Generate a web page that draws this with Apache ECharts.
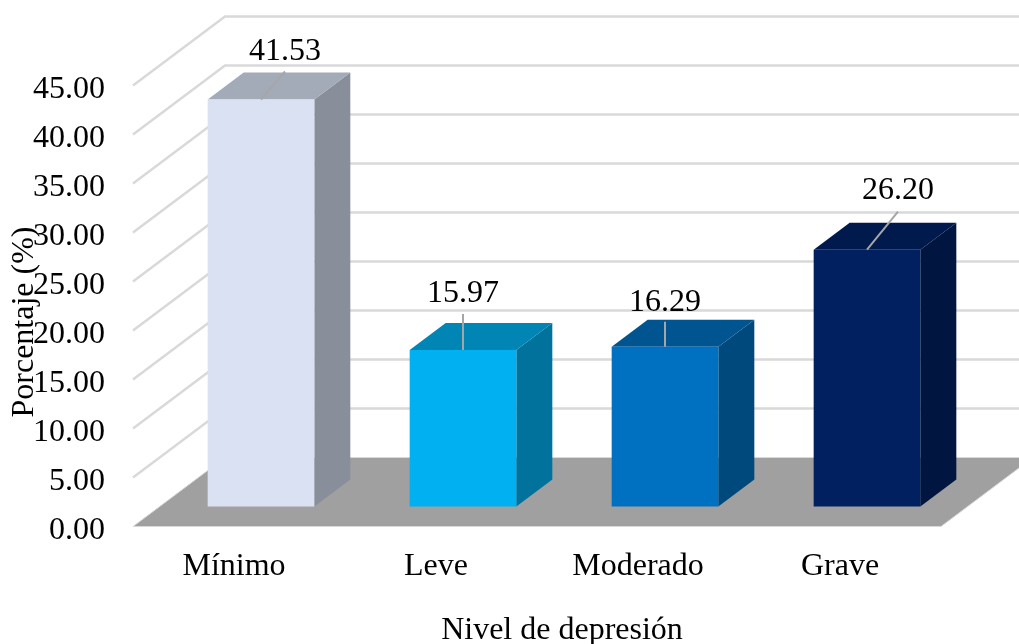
<!DOCTYPE html>
<html>
<head>
<meta charset="utf-8">
<style>html,body{margin:0;padding:0;background:#fff}#chart{width:1019px;height:644px}</style>
<script src="https://cdn.jsdelivr.net/npm/echarts@6/dist/echarts.min.js"></script>
</head>
<body>
<div id="chart"></div>
<script>
// Depression level distribution, drawn as a pseudo-3D column chart.
const categories = ['Mínimo', 'Leve', 'Moderado', 'Grave'];
const percentages = [41.53, 15.97, 16.29, 26.20];
const yTicks = [0, 5, 10, 15, 20, 25, 30, 35, 40, 45];

const frontColors = ['#dae1f3', '#00b0f0', '#0070c0', '#002060'];
const topColors = ['#a3abb8', '#0085b5', '#005591', '#001a4d'];
const sideColors = ['#888f9b', '#00729c', '#00497d', '#00153f'];

// Perspective of the box: how far the back wall sits from the front plane.
const WALL_DX = 92, WALL_DY = -69;
// Columns stand part-way into the floor and have their own depth.
const BAR_DX = 27, BAR_DY = -20, BAR_DEPTH_X = 36, BAR_DEPTH_Y = -27, BAR_RATIO = 0.528;
// Data label centre and leader end, relative to the middle of each column's top edge.
const labelShift = [[24, -48], [0, -56], [0, -44], [31, -59]];
const leaderEnd = [[24, -28], [0, -36], [0, -25], [31, -38]];

const serif = '"Liberation Serif", "Times New Roman", serif';
const FONT = 32;

function renderWall(params, api) {
  const rect = params.coordSys;
  const tick = api.value(1);
  const y = api.coord([0, tick])[1];
  const xL = rect.x, xR = rect.x + rect.width;
  if (tick === 0) {
    return {
      type: 'polygon',
      shape: { points: [[xL, y], [xR, y], [xR + WALL_DX, y + WALL_DY], [xL + WALL_DX, y + WALL_DY]] },
      style: { fill: '#a0a0a0', stroke: '#d9d9d9', lineWidth: 1 }
    };
  }
  return {
    type: 'polyline',
    shape: { points: [[xL, y], [xL + WALL_DX, y + WALL_DY], [xR + WALL_DX, y + WALL_DY]] },
    style: { fill: null, stroke: '#d9d9d9', lineWidth: 2.5 }
  };
}

function renderBar(params, api) {
  const i = api.value(0);
  const w = api.size([1, 0])[0] * BAR_RATIO;
  const topPt = api.coord([i, api.value(1)]);
  const basePt = api.coord([i, 0]);
  const cx = topPt[0] + BAR_DX;
  const l = cx - w / 2, r = cx + w / 2;
  const t = topPt[1] + BAR_DY, b = basePt[1] + BAR_DY;
  const dx = BAR_DEPTH_X, dy = BAR_DEPTH_Y;
  return {
    type: 'group',
    children: [
      { type: 'polygon', shape: { points: [[r, t], [r, b], [r + dx, b + dy], [r + dx, t + dy]] }, style: { fill: sideColors[i] } },
      { type: 'polygon', shape: { points: [[l, t], [r, t], [r + dx, t + dy], [l + dx, t + dy]] }, style: { fill: topColors[i] } },
      { type: 'rect', shape: { x: l, y: t, width: r - l, height: b - t }, style: { fill: frontColors[i] } },
      { type: 'line', shape: { x1: cx, y1: t, x2: cx + leaderEnd[i][0], y2: t + leaderEnd[i][1] }, style: { stroke: '#a6a6a6', lineWidth: 2 } },
      { type: 'text', style: {
          x: cx + labelShift[i][0], y: t + labelShift[i][1],
          text: api.value(1).toFixed(2), align: 'center', verticalAlign: 'middle',
          font: FONT + 'px ' + serif, fill: '#000'
      } }
    ]
  };
}

const chart = echarts.init(document.getElementById('chart'), null, { renderer: 'canvas' });
chart.setOption({
  animation: false,
  backgroundColor: '#fff',
  grid: { left: 133, right: 78, top: 85.5, bottom: 117.5, outerBoundsMode: 'none' },
  xAxis: {
    type: 'category',
    data: categories,
    axisLine: { show: false },
    axisTick: { show: false },
    axisLabel: { color: '#000', fontFamily: serif, fontSize: FONT, margin: 24 },
    name: 'Nivel de depresión',
    nameLocation: 'middle',
    nameGap: 88,
    nameMoveOverlap: false,
    nameTextStyle: { color: '#000', fontFamily: serif, fontSize: FONT, padding: [0, 0, 0, 50] }
  },
  yAxis: {
    type: 'value',
    min: 0,
    max: 45,
    interval: 5,
    axisLine: { show: false },
    axisTick: { show: false },
    splitLine: { show: false },
    axisLabel: {
      color: '#000', fontFamily: serif, fontSize: FONT, margin: 28,
      verticalAlign: 'top',
      lineHeight: 8,
      formatter: v => v.toFixed(2)
    },
    name: 'Porcentaje (%)',
    nameLocation: 'middle',
    nameRotate: 90,
    nameGap: 92,
    nameMoveOverlap: false,
    nameTextStyle: { color: '#000', fontFamily: serif, fontSize: FONT, padding: [0, 32, 0, 0] }
  },
  series: [
    {
      type: 'custom',
      silent: true,
      z: 1,
      renderItem: renderWall,
      encode: { x: 0, y: 1 },
      data: yTicks.map(t => [0, t])
    },
    {
      type: 'custom',
      silent: true,
      z: 2,
      renderItem: renderBar,
      encode: { x: 0, y: 1 },
      data: percentages.map((v, i) => [i, v])
    }
  ]
});
</script>
</body>
</html>
